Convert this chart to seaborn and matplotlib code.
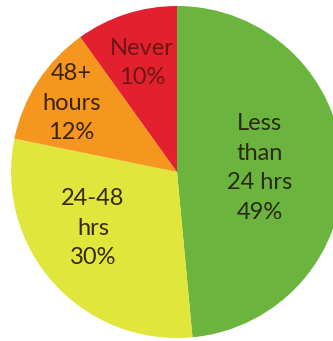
import numpy as np
import matplotlib
matplotlib.use("Agg")
import matplotlib.pyplot as plt
import seaborn as sns

categories = ["Less\nthan\n24 hrs", "24-48\nhrs", "48+\nhours", "Never"]
values = [49, 30, 12, 10]
colors = ["#6bb43e", "#e1e63c", "#f5961f", "#e3202d"]
text_colors = ["#2a2a12", "#35290f", "#3a2410", "#6e1616"]
label_radius = [0.50, 0.61, 0.76, 0.69]
label_shift_deg = [0, -8, 0, 0]

sns.set_theme(style="white")
plt.rcParams["font.family"] = ["Lato", "DejaVu Sans"]

fig = plt.figure(figsize=(3.33, 3.41), dpi=100)
ax = fig.add_axes([0, 0, 1, 1])

wedges, _ = ax.pie(values, colors=colors, startangle=90, counterclock=False,
                   radius=1.0, center=(0, 0),
                   wedgeprops=dict(linewidth=0, antialiased=True))

for w, cat, v, r, sh, tc in zip(wedges, categories, values, label_radius,
                                label_shift_deg, text_colors):
    mid = np.deg2rad((w.theta1 + w.theta2) / 2 + sh)
    x, y = r * np.cos(mid), r * np.sin(mid)
    ax.text(x, y, f"{cat}\n{v}%", ha="center", va="center", fontsize=17,
            color=tc, linespacing=1.5)

ax.set_aspect("auto")
ax.set_xlim(-177 / 166, (333 - 177) / 166)
ax.set_ylim(-(341 - 172) / 166, 172 / 166)
ax.axis("off")

fig.savefig("out.png", dpi=100, facecolor="white")
